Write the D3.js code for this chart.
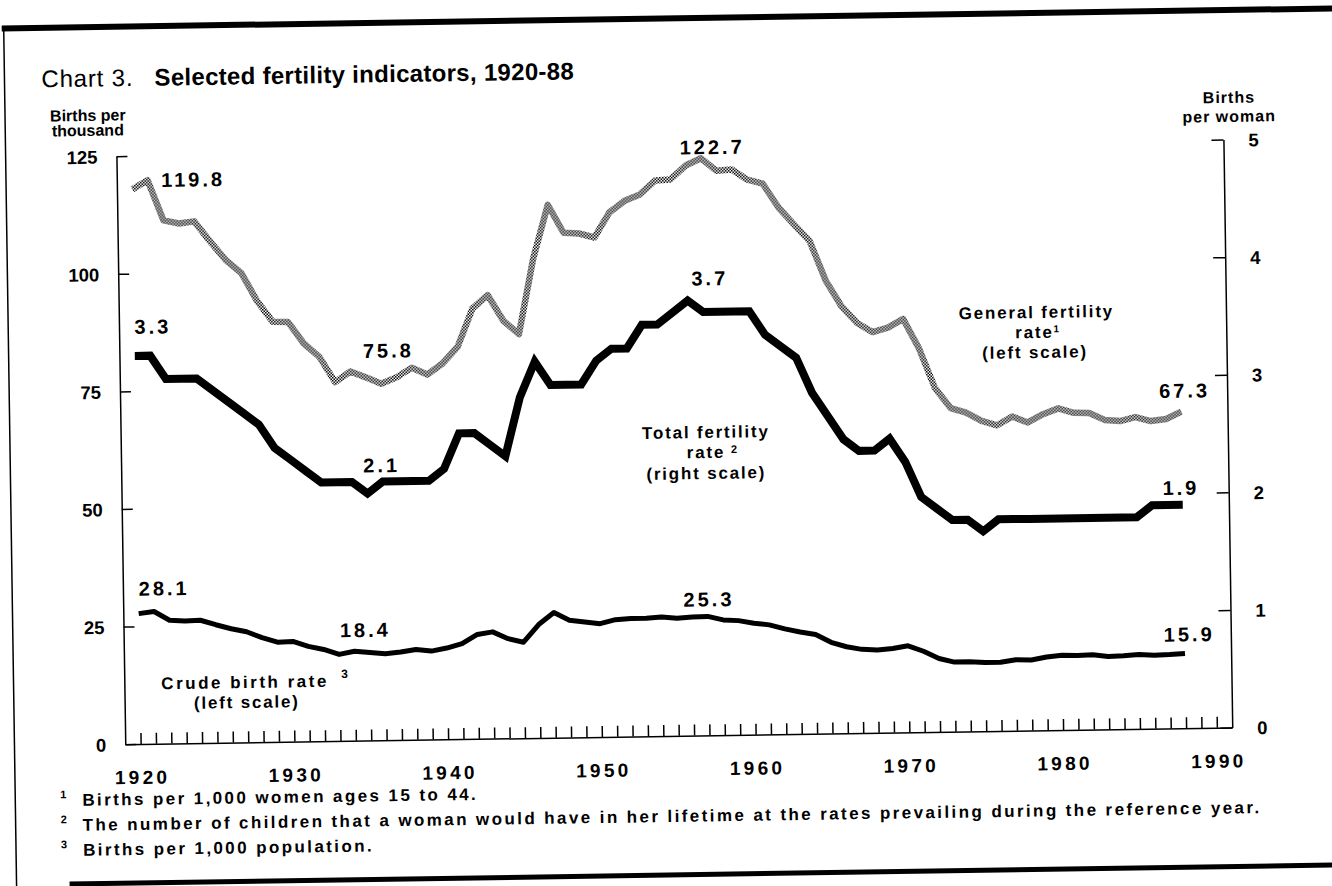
<!DOCTYPE html>
<html><head><meta charset="utf-8">
<script src="https://cdn.jsdelivr.net/npm/d3@7"></script>
<style>html,body{margin:0;padding:0;background:#fff;} svg{display:block}</style>
</head><body><svg id="chart" width="1332" height="886"></svg>
<script>
// ---------------- DATA ----------------
const years = [1920,1921,1922,1923,1924,1925,1926,1927,1928,1929,
  1930,1931,1932,1933,1934,1935,1936,1937,1938,1939,
  1940,1941,1942,1943,1944,1945,1946,1947,1948,1949,
  1950,1951,1952,1953,1954,1955,1956,1957,1958,1959,
  1960,1961,1962,1963,1964,1965,1966,1967,1968,1969,
  1970,1971,1972,1973,1974,1975,1976,1977,1978,1979,
  1980,1981,1982,1983,1984,1985,1986,1987,1988];
// General fertility rate (births per 1,000 women 15-44), left scale
const generalFertility = [117.9,119.8,111.2,110.5,110.9,106.6,102.6,99.8,93.8,89.3,
  89.2,84.6,81.7,76.3,78.5,77.2,75.8,77.1,79.1,77.6,
  79.9,83.4,91.5,94.3,88.8,85.9,101.9,113.3,107.3,107.1,
  106.2,111.5,113.9,115.2,118.1,118.3,121.2,122.7,120.0,120.2,
  118.0,117.1,112.0,108.3,104.7,96.3,90.8,87.2,85.2,86.1,
  87.9,81.6,73.1,68.8,67.8,66.0,65.0,66.8,65.5,67.2,
  68.4,67.4,67.3,65.8,65.5,66.3,65.4,65.8,67.3];
// Total fertility rate (births per woman), right scale
const totalFertility = [3.3,3.3,3.1,3.1,3.1,3.0,2.9,2.8,2.7,2.5,
  2.4,2.3,2.2,2.2,2.2,2.1,2.2,2.2,2.2,2.2,
  2.3,2.6,2.6,2.5,2.4,2.9,3.2,3.0,3.0,3.0,
  3.2,3.3,3.3,3.5,3.5,3.6,3.7,3.6,3.6,3.6,
  3.6,3.4,3.3,3.2,2.9,2.7,2.5,2.4,2.4,2.5,
  2.3,2.0,1.9,1.8,1.8,1.7,1.8,1.8,1.8,1.8,
  1.8,1.8,1.8,1.8,1.8,1.8,1.9,1.9,1.9];
// Crude birth rate (births per 1,000 population), left scale
const crudeBirthRate = [27.7,28.1,26.2,26.0,26.1,25.1,24.2,23.5,22.2,21.2,
  21.3,20.2,19.5,18.4,19.0,18.7,18.4,18.7,19.2,18.8,
  19.4,20.3,22.2,22.7,21.2,20.4,24.1,26.6,24.9,24.5,
  24.1,24.9,25.1,25.1,25.3,25.0,25.2,25.3,24.5,24.3,
  23.7,23.3,22.4,21.7,21.1,19.4,18.4,17.8,17.6,17.9,
  18.4,17.2,15.6,14.8,14.8,14.6,14.6,15.1,15.0,15.6,
  15.9,15.8,15.9,15.5,15.6,15.8,15.6,15.7,15.9];

const leftTicks = [0,25,50,75,100,125];
const rightTicks = [0,1,2,3,4,5];
const decadeTicks = [1920,1930,1940,1950,1960,1970,1980,1990];

const valueLabels = [
  {text:"119.8", year:1921, value:119.8, axis:"left"},
  {text:"122.7", year:1957, value:122.7, axis:"left"},
  {text:"75.8",  year:1936, value:75.8,  axis:"left"},
  {text:"67.3",  year:1988, value:67.3,  axis:"left"},
  {text:"3.3",   year:1920, value:3.3,   axis:"right"},
  {text:"2.1",   year:1935, value:2.1,   axis:"right"},
  {text:"3.7",   year:1956, value:3.7,   axis:"right"},
  {text:"1.9",   year:1988, value:1.9,   axis:"right"},
  {text:"28.1",  year:1921, value:28.1,  axis:"left"},
  {text:"18.4",  year:1933, value:18.4,  axis:"left"},
  {text:"25.3",  year:1957, value:25.3,  axis:"left"},
  {text:"15.9",  year:1988, value:15.9,  axis:"left"}
];
const footnotes = [
  {mark:"1", text:"Births per 1,000 women ages 15 to 44."},
  {mark:"2", text:"The number of children that a woman would have in her lifetime at the rates prevailing during the reference year."},
  {mark:"3", text:"Births per 1,000 population."}
];

// ---------------- LAYOUT ----------------
const FONT = "'Liberation Sans', Arial, Helvetica, sans-serif";
// label offsets (center x offset, baseline y offset) from their data point
const labelOffsets = {
  "119.8":[44,7], "122.7":[10,-4], "75.8":[6,-26], "67.3":[2,-14],
  "3.3":[17,-22], "2.1":[13,-21], "3.7":[21,-15], "1.9":[-3,-10],
  "28.1":[9,-16], "18.4":[25,-17], "25.3":[0,-10], "15.9":[3,-12]
};

const svg = d3.select("#chart");
svg.append("rect").attr("width",1332).attr("height",886).attr("fill","#fff");

const defs = svg.append("defs");
const pat = defs.append("pattern").attr("id","halftone")
  .attr("patternUnits","userSpaceOnUse").attr("width",3).attr("height",3);
pat.append("rect").attr("width",3).attr("height",3).attr("fill","#fff");
pat.append("rect").attr("x",0).attr("y",0).attr("width",1.5).attr("height",1.5).attr("fill","#000");
pat.append("rect").attr("x",1.5).attr("y",1.5).attr("width",1.5).attr("height",1.5).attr("fill","#000");

// the scanned page is slightly rotated
const g = svg.append("g").attr("transform","rotate(-0.86,666,443)")
  .attr("font-family", FONT).attr("fill","#000");

// page frame
g.append("line").attr("x1",8).attr("x2",1360).attr("y1",18.5).attr("y2",18.5)
  .attr("stroke","#000").attr("stroke-width",6);
g.append("line").attr("x1",10).attr("x2",10).attr("y1",16).attr("y2",900)
  .attr("stroke","#000").attr("stroke-width",1.5);
g.append("line").attr("x1",63).attr("x2",1360).attr("y1",875).attr("y2",875)
  .attr("stroke","#000").attr("stroke-width",5);

// scales
const x = d3.scaleLinear().domain([1919,1991]).range([120.8,1227.9]);
const yL = d3.scaleLinear().domain([0,125]).range([736,148]);
const yR = d3.scaleLinear().domain([0,5]).range([736,148]);

// title
g.append("text").attr("x",47).attr("y",78).attr("font-size",24).attr("letter-spacing",0.8).text("Chart 3.");
g.append("text").attr("x",160).attr("y",78).attr("font-size",24).attr("font-weight","bold")
  .attr("letter-spacing",0.3).text("Selected fertility indicators, 1920-88");

// axis titles
const axT = g.append("g").attr("font-weight","bold").attr("font-size",16).attr("text-anchor","middle");
axT.append("text").attr("x",92.8).attr("y",112.3).text("Births per");
axT.append("text").attr("x",92.6).attr("y",127.3).text("thousand");
axT.append("text").attr("x",1234).attr("y",111.4).attr("letter-spacing",1).text("Births");
axT.append("text").attr("x",1234).attr("y",130.4).attr("letter-spacing",1).text("per woman");

// axes
function styleAxis(sel, spacing){
  sel.attr("font-family",FONT).attr("font-size",18.5).attr("font-weight","bold");
  sel.selectAll("path,line").attr("stroke","#000").attr("stroke-width",1.5);
  sel.selectAll("text").attr("fill","#000").attr("letter-spacing",spacing);
}
const bottomAxis = g.append("g").attr("transform","translate(0,736)")
  .call(d3.axisBottom(x).tickValues(d3.range(1920,1991)).tickSize(-11).tickSizeOuter(0).tickFormat(""));
styleAxis(bottomAxis, 0);
const leftAxis = g.append("g").attr("transform","translate(120.8,0)")
  .call(d3.axisLeft(yL).tickValues(leftTicks).tickSize(-11).tickSizeOuter(0).tickPadding(19).tickFormat(d3.format("d")));
styleAxis(leftAxis, 0);
leftAxis.selectAll("text").attr("dy","0.36em");
const rightAxis = g.append("g").attr("transform","translate(1227.9,0)")
  .call(d3.axisRight(yR).tickValues(rightTicks).tickSize(-12).tickSizeOuter(0).tickPadding(25).tickFormat(d3.format("d")));
styleAxis(rightAxis, 0);
rightAxis.selectAll("text").attr("dy","0.36em");

g.append("g").attr("font-size",19).attr("font-weight","bold").attr("text-anchor","middle")
  .selectAll("text").data(decadeTicks).join("text")
  .attr("x",d=>x(d)+1.5).attr("y",776).attr("letter-spacing",3.3).text(d=>d);

// lines
const lineL = vals => d3.line().x((d,i)=>x(years[i])).y(d=>yL(d))(vals);
const lineR = vals => d3.line().x((d,i)=>x(years[i])).y(d=>yR(d))(vals);

g.append("path").attr("d",lineL(generalFertility)).attr("fill","none")
  .attr("stroke","url(#halftone)").attr("stroke-width",6.5).attr("stroke-linejoin","round");
g.append("path").attr("d",lineL(crudeBirthRate)).attr("fill","none")
  .attr("stroke","#000").attr("stroke-width",5).attr("stroke-linejoin","round");
g.append("path").attr("d",lineR(totalFertility)).attr("fill","none")
  .attr("stroke","#000").attr("stroke-width",8).attr("stroke-linejoin","miter");

// value labels
g.append("g").attr("font-size",20).attr("font-weight","bold").attr("text-anchor","middle")
  .selectAll("text").data(valueLabels).join("text")
  .attr("x",d=>x(d.year)+labelOffsets[d.text][0]+1.5)
  .attr("y",d=>(d.axis==="left"?yL(d.value):yR(d.value))+labelOffsets[d.text][1])
  .attr("letter-spacing",3).text(d=>d.text);

// series labels
const sl = g.append("g").attr("font-size",17).attr("font-weight","bold").attr("text-anchor","middle").attr("letter-spacing",1.8);
sl.append("text").attr("x",1038.3).attr("y",323.6).text("General fertility");
sl.append("text").attr("x",1036.1).attr("y",343.6).text("rate");
sl.append("text").attr("x",1058).attr("y",338).attr("font-size",10).attr("letter-spacing",0).text("1");
sl.append("text").attr("x",1036.3).attr("y",363.6).text("(left scale)");

sl.append("text").attr("x",706).attr("y",438.6).text("Total fertility");
sl.append("text").attr("x",705.8).attr("y",458.6).text("rate");
sl.append("text").attr("x",734).attr("y",454).attr("font-size",11).attr("letter-spacing",0).text("2");
sl.append("text").attr("x",705.8).attr("y",479.6).text("(right scale)");

sl.append("text").attr("x",241.5).attr("y",681.7).attr("letter-spacing",2.5).text("Crude birth rate");
sl.append("text").attr("x",341).attr("y",673.1).attr("font-size",12).attr("letter-spacing",0).text("3");
sl.append("text").attr("x",243).attr("y",701.7).text("(left scale)");

// footnotes
const fn = g.append("g").attr("font-size",17).attr("font-weight","bold");
footnotes.forEach((f,i)=>{
  const yb = 797 + i*25;
  fn.append("text").attr("x",55).attr("y",yb-8).attr("font-size",11).text(f.mark);
  fn.append("text").attr("x",77).attr("y",yb).attr("letter-spacing",2.4).text(f.text);
});
</script></body></html>
